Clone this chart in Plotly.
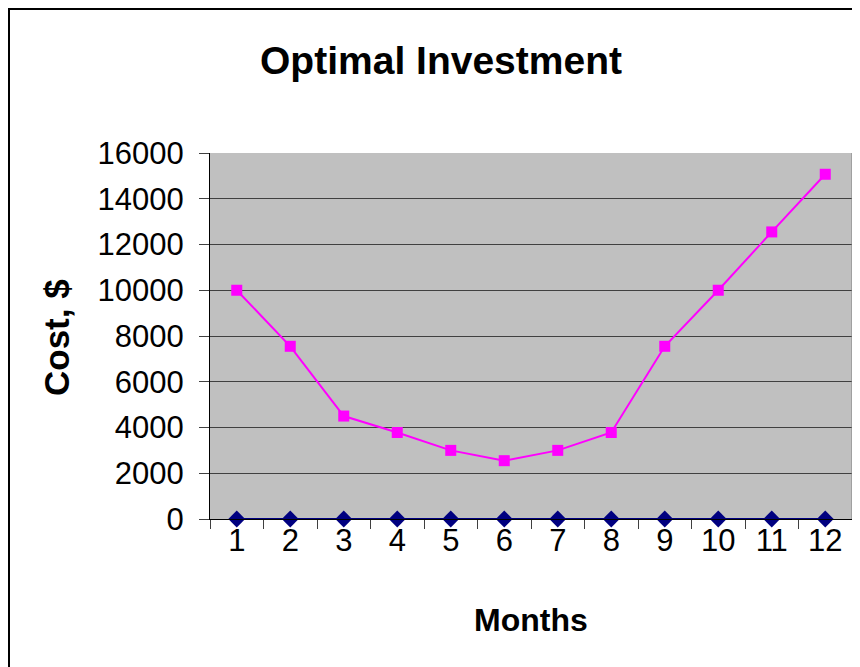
import plotly.graph_objects as go

months = list(range(1, 13))
month_labels = [str(m) for m in months]
cost = [10000, 7550, 4500, 3780, 3000, 2550, 3000, 3780, 7550, 10000, 12550, 15070]
baseline = [0] * 12
y_ticks = [0, 2000, 4000, 6000, 8000, 10000, 12000, 14000, 16000]
y_tick_labels = [str(v) for v in y_ticks]

FONT = "Liberation Sans, Arial, sans-serif"

# page has an 8px body margin; figure coordinates = page - 8
W, H = 852, 659
L, R, T, B = 202, 8, 145, 148
PW = W - L - R
PH = H - T - B


def px(xp):
    return (xp - 8 - L) / PW


def py(yp):
    return (H - B - (yp - 8)) / PH


fig = go.Figure()
fig.add_trace(go.Scatter(
    x=months, y=baseline, mode="lines+markers",
    line=dict(color="#000080", width=2),
    marker=dict(symbol="diamond", size=13, color="#000080"),
    cliponaxis=False, showlegend=False,
))
fig.add_trace(go.Scatter(
    x=months, y=cost, mode="lines+markers",
    line=dict(color="#FF00FF", width=2),
    marker=dict(symbol="square", size=11, color="#FF00FF"),
    cliponaxis=False, showlegend=False,
))

fig.update_layout(
    width=W, height=H,
    margin=dict(l=L, r=R, t=T, b=B),
    paper_bgcolor="white",
    plot_bgcolor="#C0C0C0",
    font=dict(family=FONT, color="black"),
    title=dict(text="<b>Optimal Investment</b>", x=(441 - 8) / W, xanchor="center",
               y=1 - (60 - 8) / H, yanchor="middle",
               font=dict(size=39, family=FONT, color="black")),
    xaxis=dict(
        range=[0.5, 12.5], tickvals=months, ticktext=month_labels,
        ticks="", ticklen=0, showgrid=False, showline=True, linecolor="black", linewidth=1,
        minor=dict(ticks="outside", tick0=0.5, dtick=1, ticklen=9,
                   tickcolor="#404040", showgrid=False),
        tickfont=dict(size=31, family=FONT), ticklabelstandoff=-6,
        zeroline=False, mirror=False,
    ),
    yaxis=dict(
        range=[0, 16000], tickvals=y_ticks, ticktext=y_tick_labels,
        ticks="outside", ticklen=10, tickcolor="#404040",
        showgrid=True, gridcolor="#404040", gridwidth=1,
        showline=True, linecolor="black", linewidth=1,
        tickfont=dict(size=31, family=FONT), ticklabelstandoff=9,
        zeroline=False,
    ),
    annotations=[
        dict(text="<b>Months</b>", xref="paper", yref="paper",
             x=px(531), y=py(620),
             xanchor="center", yanchor="middle", showarrow=False,
             font=dict(size=32, family=FONT, color="black")),
        dict(text="<b>Cost, $</b>", xref="paper", yref="paper",
             x=px(56), y=py(338), textangle=-90,
             xanchor="center", yanchor="middle", showarrow=False,
             font=dict(size=35, family=FONT, color="black")),
    ],
    shapes=[
        dict(type="line", xref="paper", yref="paper",
             x0=1, x1=1, y0=0, y1=1, line=dict(color="#808080", width=1)),
        dict(type="line", xref="paper", yref="paper",
             x0=px(7), x1=px(880),
             y0=py(8.5), y1=py(8.5),
             line=dict(color="black", width=3)),
        dict(type="line", xref="paper", yref="paper",
             x0=px(8.5), x1=px(8.5),
             y0=py(8.5), y1=py(700),
             line=dict(color="black", width=3)),
    ],
)

fig.write_html("out.html")
